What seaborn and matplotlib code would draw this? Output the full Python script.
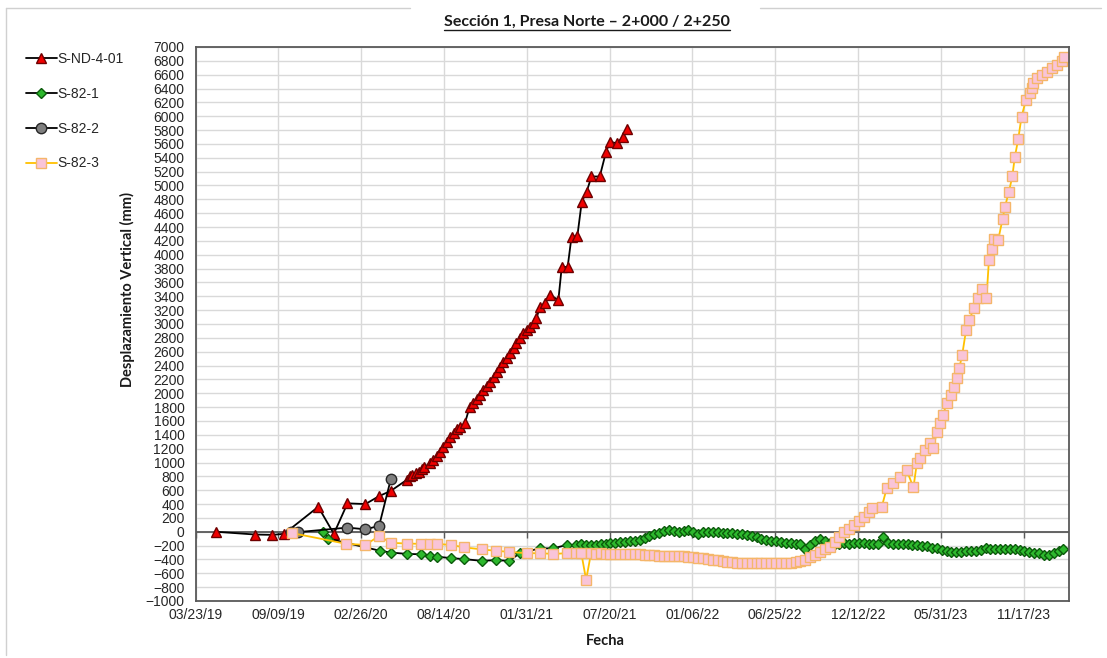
import matplotlib
matplotlib.use("Agg")
import matplotlib.pyplot as plt
import matplotlib.dates as mdates
from matplotlib.lines import Line2D
import numpy as np
import pandas as pd
import seaborn as sns

# ---------------------------------------------------------------- data
SERIES_NAMES = ["S-ND-4-01", "S-82-1", "S-82-2", "S-82-3"]

# S-ND-4-01 settlement record (mm)
snd_dates = [
    "2019-05-04", "2019-07-23", "2019-08-28", "2019-09-21", "2019-11-30",
    "2020-01-01", "2020-01-29", "2020-03-06", "2020-04-03", "2020-04-27",
    "2020-05-30", "2020-06-05", "2020-06-10", "2020-06-18", "2020-06-24",
    "2020-06-30", "2020-07-05", "2020-07-16", "2020-07-23", "2020-07-30",
    "2020-08-06", "2020-08-13", "2020-08-20", "2020-08-27", "2020-09-03",
    "2020-09-09", "2020-09-16", "2020-09-26", "2020-10-06", "2020-10-13",
    "2020-10-20", "2020-10-27", "2020-11-03", "2020-11-10", "2020-11-17",
    "2020-11-24", "2020-12-01", "2020-12-07", "2020-12-14", "2020-12-21",
    "2020-12-28", "2021-01-04", "2021-01-10", "2021-01-17", "2021-01-24",
    "2021-01-31", "2021-02-07", "2021-02-14", "2021-02-20", "2021-02-27",
    "2021-03-09", "2021-03-20", "2021-04-06", "2021-04-13", "2021-04-25",
    "2021-05-03", "2021-05-15", "2021-05-24", "2021-06-03", "2021-06-13",
    "2021-06-30", "2021-07-13", "2021-07-21", "2021-08-04", "2021-08-17",
    "2021-08-25",
]
snd_vals = [
    0, -40, -45, -30, 360,
    -30, 410, 400, 515, 590,
    750, 800, 820, 850, 870,
    900, 930, 990, 1030, 1090,
    1155, 1230, 1300, 1370, 1420,
    1480, 1515, 1565, 1805, 1860,
    1920, 1975, 2040, 2100, 2165,
    2240, 2310, 2385, 2450, 2510,
    2575, 2650, 2720, 2795, 2870,
    2910, 2960, 3020, 3080, 3250,
    3300, 3420, 3345, 3830, 3820,
    4260, 4270, 4765, 4910, 5130,
    5130, 5490, 5630, 5610, 5705,
    5820,
]

# S-82-1: early campaign readings, then readings every ten days
s821_dates_early = [
    "2019-12-10", "2019-12-21", "2020-04-05", "2020-04-27", "2020-05-30",
    "2020-06-27", "2020-07-16", "2020-07-30", "2020-08-28", "2020-09-24",
    "2020-10-31", "2020-11-28", "2020-12-26", "2021-01-17", "2021-02-27",
    "2021-03-27", "2021-04-23",
]
s821_vals_early = [
    0, -100, -275, -300, -320,
    -325, -350, -360, -380, -395,
    -420, -410, -420, -310, -240,
    -240, -190,
]
s821_dense_start = "2021-05-13"
s821_vals_dense = [
    -190, -170, -185, -190, -195, -178, -172, -168, -160, -155,
    -148, -140, -132, -120, -95, -55, -35, -12, 5, 22,
    15, 0, 12, 25, -5, -30, -10, 0, -8, -10,
    -15, -20, -22, -28, -35, -50, -65, -80, -100, -118,
    -130, -140, -150, -158, -165, -170, -180, -255, -190, -140,
    -110, -135, -165, -170, -172, -168, -175, -165, -160, -162,
    -170, -172, -178, -75, -165, -172, -170, -178, -180, -185,
    -192, -200, -210, -228, -240, -265, -285, -290, -288, -292,
    -285, -280, -275, -262, -240, -250, -255, -248, -245, -242,
    -250, -268, -285, -295, -305, -312, -335, -340, -310, -285,
    -245,
]

# S-82-2 settlement record (mm)
s822_dates = ["2019-10-06", "2019-10-20", "2020-01-29", "2020-03-06",
              "2020-04-03", "2020-04-27"]
s822_vals = [0, -5, 60, 35, 85, 760]

# S-82-3: early readings, ten-day readings, then the 2023 campaign
s823_dates_early = [
    "2019-10-08", "2020-01-27", "2020-03-06", "2020-04-03", "2020-04-27",
    "2020-05-30", "2020-06-27", "2020-07-16", "2020-07-30", "2020-08-28",
    "2020-09-24", "2020-10-31", "2020-11-28", "2020-12-26", "2021-01-31",
    "2021-02-27", "2021-03-27", "2021-04-23",
]
s823_vals_early = [
    -20, -175, -190, -60, -160,
    -170, -175, -180, -175, -190,
    -225, -255, -275, -290, -310,
    -310, -320, -310,
]
s823_dense_start = "2021-05-13"
s823_vals_dense = [
    -310, -305, -695, -310, -315, -312, -318, -315, -320, -318,
    -322, -320, -325, -328, -332, -335, -340, -345, -348, -350,
    -352, -350, -355, -360, -365, -372, -385, -395, -405, -415,
    -425, -432, -438, -445, -450, -452, -455, -455, -458, -455,
    -455, -452, -450, -448, -445, -440, -425, -405, -370, -330,
    -290, -250, -215, -150, -80, -10, 45, 100, 160, 215,
    280,
]
s823_dates_late = [
    "2023-01-09", "2023-01-30", "2023-02-09", "2023-02-23", "2023-03-08",
    "2023-03-22", "2023-04-05", "2023-04-12", "2023-04-18", "2023-04-29",
    "2023-05-09", "2023-05-16", "2023-05-23", "2023-05-29", "2023-06-05",
    "2023-06-12", "2023-06-22", "2023-06-27", "2023-07-03", "2023-07-08",
    "2023-07-14", "2023-07-22", "2023-07-29", "2023-08-07", "2023-08-15",
    "2023-08-23", "2023-09-02", "2023-09-07", "2023-09-13", "2023-09-17",
    "2023-09-26", "2023-10-05", "2023-10-10", "2023-10-18", "2023-10-25",
    "2023-10-30", "2023-11-06", "2023-11-13", "2023-11-22", "2023-11-30",
    "2023-12-04", "2023-12-07", "2023-12-14", "2023-12-24", "2024-01-04",
    "2024-01-14", "2024-01-25", "2024-02-04", "2024-02-08",
]
s823_vals_late = [
    340, 360, 625, 700, 795,
    890, 640, 990, 1060, 1180,
    1275, 1205, 1445, 1565, 1685,
    1855, 1975, 2095, 2215, 2360,
    2550, 2910, 3060, 3230, 3370,
    3500, 3370, 3925, 4080, 4230,
    4215, 4515, 4695, 4910, 5130,
    5405, 5665, 5995, 6235, 6330,
    6405, 6485, 6550, 6595, 6645,
    6700, 6740, 6800, 6855,
]

# axis setup
X_START, X_END = "2019-03-23", "2024-02-19"
X_TICK_STEP_DAYS = 170
Y_MIN, Y_MAX, Y_STEP = -1000, 7000, 200

TITLE = "Sección 1, Presa Norte – 2+000 / 2+250"
YLABEL = "Desplazamiento Vertical (mm)"
XLABEL = "Fecha"

# ---------------------------------------------------------------- frames
def frame(dates, vals):
    return pd.DataFrame({"fecha": pd.to_datetime(dates), "mm": vals})

def ten_day(start, vals):
    return pd.DataFrame({"fecha": pd.date_range(start, periods=len(vals), freq="10D"),
                         "mm": vals})

df_snd = frame(snd_dates, snd_vals)
df_821 = pd.concat([frame(s821_dates_early, s821_vals_early),
                    ten_day(s821_dense_start, s821_vals_dense)], ignore_index=True)
df_822 = frame(s822_dates, s822_vals)
df_823 = pd.concat([frame(s823_dates_early, s823_vals_early),
                    ten_day(s823_dense_start, s823_vals_dense),
                    frame(s823_dates_late, s823_vals_late)], ignore_index=True)

# ---------------------------------------------------------------- figure
sns.set_theme(style="white")
plt.rcParams["font.family"] = ["Liberation Sans", "DejaVu Sans"]

W, H = 1107, 658
fig = plt.figure(figsize=(W / 100, H / 100), dpi=100)
fig.patch.set_facecolor("white")
ax = fig.add_axes([195.5 / W, 1 - 601 / H, (1069.3 - 195.5) / W, (601 - 47) / H])

styles = [
    (df_snd, SERIES_NAMES[0], dict(color="black", marker="^", markersize=7,
                                   markerfacecolor="#F00000", markeredgecolor="#6E0000")),
    (df_821, SERIES_NAMES[1], dict(color="black", marker="D", markersize=5.5,
                                   markerfacecolor="#2DB82D", markeredgecolor="#0B5A0B")),
    (df_822, SERIES_NAMES[2], dict(color="black", marker="o", markersize=7.5,
                                   markerfacecolor="#7F7F7F", markeredgecolor="#262626")),
    (df_823, SERIES_NAMES[3], dict(color="#FFC000", marker="s", markersize=7,
                                   markerfacecolor="#F9C4D8", markeredgecolor="#F5B66A")),
]
for df, name, kw in styles:
    sns.lineplot(data=df, x="fecha", y="mm", ax=ax, label=name, estimator=None,
                 sort=False, linewidth=1.3, markeredgewidth=1.0, **kw)

# axes limits, ticks and grid
ax.set_xlim(pd.Timestamp(X_START), pd.Timestamp(X_END))
ax.set_ylim(Y_MIN, Y_MAX)
xticks = pd.date_range(X_START, X_END, freq=f"{X_TICK_STEP_DAYS}D")
ax.set_xticks(xticks)
ax.xaxis.set_major_formatter(mdates.DateFormatter("%m/%d/%y"))
ax.set_yticks(np.arange(Y_MIN, Y_MAX + 1, Y_STEP))
ax.grid(True, color="#D9D9D9", linewidth=1.0)
ax.set_axisbelow(True)
ax.tick_params(axis="both", length=0, labelsize=10, labelcolor="#262626")
ax.tick_params(axis="y", pad=8)
ax.tick_params(axis="x", pad=5)
for sp in ax.spines.values():
    sp.set_color("#595959")
    sp.set_linewidth(1.3)
ax.set_xlabel("")
ax.set_ylabel("")

# horizontal axis line through zero with its small tick marks
ax.axhline(0, color="#595959", linewidth=1.3, zorder=1.5)
ax.plot(xticks, np.zeros(len(xticks)), linestyle="none", marker=3,
        markersize=4, color="#595959", zorder=1.5)

# legend at the left of the plot area
handles, labels = ax.get_legend_handles_labels()
ax.get_legend().remove()
fig.legend(handles, labels, loc="upper left", bbox_to_anchor=(19 / W, 1 - 45 / H),
           frameon=False, fontsize=10, labelspacing=1.5, handlelength=2.2,
           handletextpad=0.05, borderpad=0, labelcolor="#262626")

# titles
title = fig.text(587 / W, 1 - 22 / H, TITLE, ha="center", va="center",
                 fontsize=11.5, fontweight="bold", family=["Lato", "DejaVu Sans"],
                 color="#1a1a1a")
fig.text(127 / W, 1 - 290 / H, YLABEL, ha="center", va="center", rotation=90,
         fontsize=10.5, fontweight="bold", family=["Lato", "DejaVu Sans"], color="#1a1a1a")
fig.text(605 / W, 1 - 641 / H, XLABEL, ha="center", va="center",
         fontsize=10.5, fontweight="bold", family=["Lato", "DejaVu Sans"], color="#1a1a1a")

# underline the title
fig.canvas.draw()
bb = title.get_window_extent(fig.canvas.get_renderer())
uy = (bb.y0 - 1) / H
fig.add_artist(Line2D([bb.x0 / W, bb.x1 / W], [uy, uy], color="#1a1a1a", linewidth=1.0))

# light chart-area frame
frame_col = "#D0D0D0"
fig.add_artist(Line2D([6 / W, 410 / W], [1 - 8 / H, 1 - 8 / H], color=frame_col, lw=1))
fig.add_artist(Line2D([760 / W, 1101 / W], [1 - 8 / H, 1 - 8 / H], color=frame_col, lw=1))
fig.add_artist(Line2D([6 / W, 6 / W], [1 - 8 / H, 1 - 655 / H], color=frame_col, lw=1))

fig.savefig("out.png", dpi=100, facecolor="white")
